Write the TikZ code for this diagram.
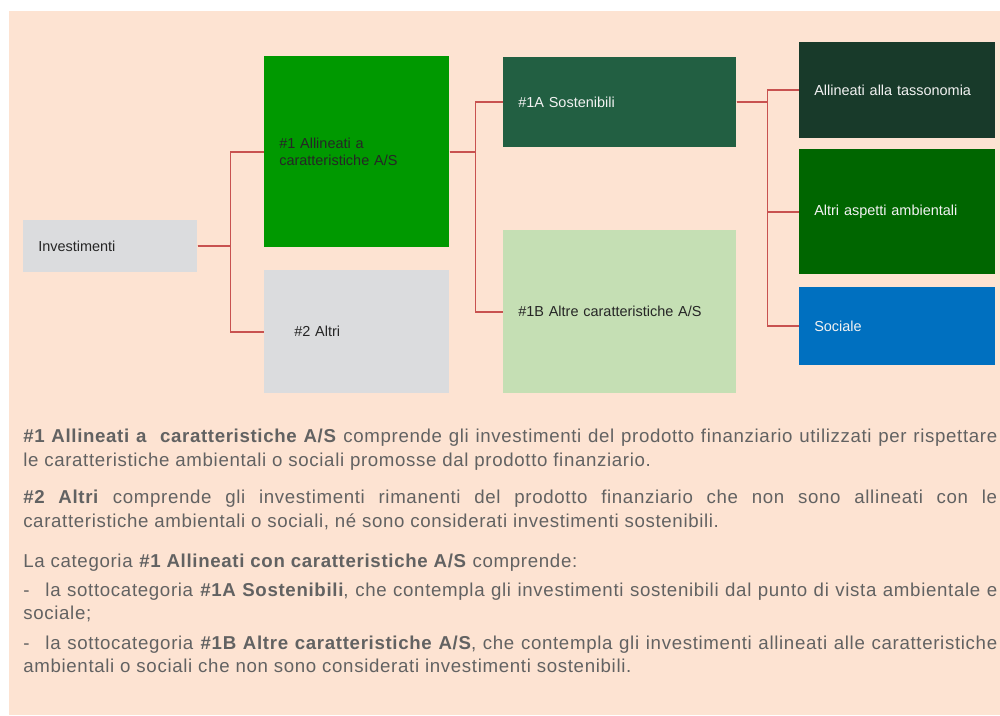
\documentclass[tikz,border=0pt]{standalone}
\usepackage{fontspec}
\setmainfont{Liberation Sans}
\newfontfamily\notefont[LetterSpace=3.5]{Liberation Sans}
\newfontfamily\listfont[LetterSpace=3.6]{Liberation Sans}

\definecolor{bgpeach}{RGB}{253,227,210}
\definecolor{linkred}{RGB}{200,82,80}
\definecolor{bodygray}{RGB}{98,98,98}
\definecolor{darktext}{RGB}{38,38,38}
\definecolor{lighttext}{RGB}{242,242,242}
\definecolor{greenone}{RGB}{0,153,0}
\definecolor{greyone}{RGB}{219,220,222}
\definecolor{greenonea}{RGB}{34,95,66}
\definecolor{greenoneb}{RGB}{197,223,180}
\definecolor{greentax}{RGB}{24,58,42}
\definecolor{greenamb}{RGB}{0,102,0}
\definecolor{bluesoc}{RGB}{0,112,192}

\begin{document}
\begin{tikzpicture}[x=0.75pt, y=-0.75pt,
    box/.style={rectangle, anchor=north west, inner xsep=11.25pt, inner ysep=0pt, align=left, font=\fontsize{10.85}{12.75}\selectfont},
    link/.style={draw=linkred, line width=1.4pt},
    para/.style={anchor=base west, inner sep=0pt, text width=730.5pt, align=justify, text=bodygray, font=\notefont\fontsize{14}{18}\selectfont},
    listpara/.style={para, font=\listfont\fontsize{14}{17.5}\selectfont}]

        \useasboundingbox (0,0) rectangle (1000,715);
        \fill[bgpeach] (9,11) rectangle (1000,715);

        % tree
        \node[box, fill=greyone, text=darktext, text width=108pt, minimum height=39pt] (inv) at (23,220) {Investimenti};
        \node[box, fill=greenone, text=darktext, text width=116.25pt, minimum height=143.25pt] (a1) at (264,56) {\#1 Allineati a\\caratteristiche A/S};
        \node[box, fill=greyone, text=darktext, text width=116.25pt, minimum height=92.25pt] (a2) at (264,270) {\hspace*{11.25pt}\#2 Altri};
        \node[box, fill=greenonea, text=lighttext, text width=152.25pt, minimum height=67.5pt] (s1a) at (503,57) {\#1A Sostenibili};
        \node[box, fill=greenoneb, text=darktext, text width=152.25pt, minimum height=122.25pt] (s1b) at (503,230) {\#1B Altre caratteristiche A/S};
        \node[box, fill=greentax, text=lighttext, text width=124.5pt, minimum height=72pt] (tax) at (799,42) {Allineati alla tassonomia};
        \node[box, fill=greenamb, text=lighttext, text width=124.5pt, minimum height=93.75pt] (amb) at (799,149) {Altri aspetti ambientali};
        \node[box, fill=bluesoc, text=lighttext, text width=124.5pt, minimum height=58.5pt] (soc) at (799,287) {Sociale};

        \draw[link] (inv.east) -- ++(33,0) |- (a1.west);
        \draw[link] (inv.east) -- ++(33,0) |- (a2.west);
        \draw[link] (a1.east) -- ++(26,0) |- (s1a.west);
        \draw[link] (a1.east) -- ++(26,0) |- (s1b.west);
        \draw[link] (s1a.east) -- ++(31,0) |- (tax.west);
        \draw[link] (s1a.east) -- ++(31,0) |- (amb.west);
        \draw[link] (s1a.east) -- ++(31,0) |- (soc.west);

        % notes
        \node[para] (p1) at (23,442) {\textbf{\#1 Allineati a\ \ caratteristiche A/S} comprende gli investimenti del prodotto finanziario utilizzati per rispettare\linebreak le caratteristiche ambientali o sociali promosse dal prodotto finanziario.};
        \node[para] (p2) at (23,503) {\textbf{\#2 Altri} comprende gli investimenti rimanenti del prodotto finanziario che non sono allineati con le\linebreak caratteristiche ambientali o sociali, né sono considerati investimenti sostenibili.};
        \node[listpara] (p3) at (23,567) {La categoria \textbf{\#1 Allineati con caratteristiche A/S} comprende:};
        \node[listpara] (p4) at (23,596) {-\hspace*{12pt}la sottocategoria \textbf{\#1A Sostenibili}, che contempla gli investimenti sostenibili dal punto di vista ambientale e\linebreak sociale;};
        \node[listpara] (p5) at (23,649) {-\hspace*{12pt}la sottocategoria \textbf{\#1B Altre caratteristiche A/S}, che contempla gli investimenti allineati alle caratteristiche\linebreak ambientali o sociali che non sono considerati investimenti sostenibili.};

\end{tikzpicture}
\end{document}
